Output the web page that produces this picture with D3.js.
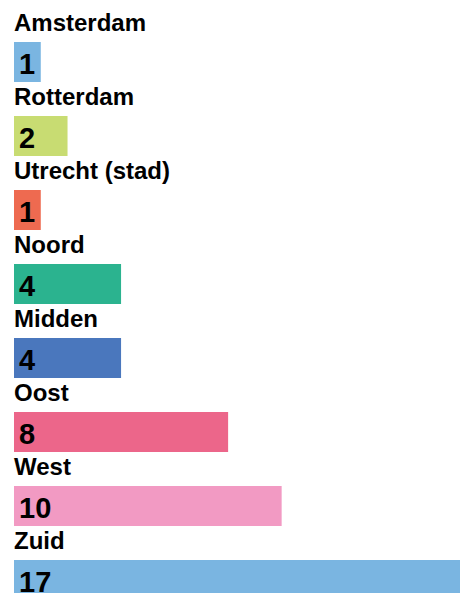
<!DOCTYPE html>
<html>
<head>
<meta charset="utf-8">
<script src="https://cdn.jsdelivr.net/npm/d3@7"></script>
<style>
  html, body { margin: 0; padding: 0; background: #fff; overflow: hidden; }
  svg { display: block; }
</style>
</head>
<body>
<svg id="chart" width="460" height="593"></svg>
<script>
const categories = ["Amsterdam", "Rotterdam", "Utrecht (stad)", "Noord", "Midden", "Oost", "West", "Zuid"];
const values = [1, 2, 1, 4, 4, 8, 10, 17];
const colors = ["#7ab5e1", "#c8dc72", "#ee6a50", "#2bb38f", "#4a77bd", "#ec668a", "#f29ac3", "#7ab5e1"];

const svg = d3.select("#chart");
const left = 14;

const x = d3.scaleLinear().domain([0, 17]).range([0, 455]);
const y = d3.scaleBand().domain(categories).range([11, 11 + 74 * categories.length]).paddingInner(0).paddingOuter(0);

const data = categories.map((c, i) => ({ c, v: values[i], col: colors[i] }));

const g = svg.selectAll("g.row").data(data).enter().append("g")
  .attr("class", "row")
  .attr("transform", d => `translate(0,${y(d.c)})`);

g.append("text")
  .attr("x", left)
  .attr("y", 20)
  .attr("font-family", "'Liberation Sans', Arial, Helvetica, sans-serif")
  .attr("font-weight", "bold")
  .attr("font-size", 24)
  .attr("fill", "#000")
  .text(d => d.c);

g.append("rect")
  .attr("x", left)
  .attr("y", 31)
  .attr("width", d => x(d.v))
  .attr("height", 40)
  .attr("fill", d => d.col);

g.append("text")
  .attr("x", left + 5)
  .attr("y", 31 + 32)
  .attr("font-family", "'Liberation Sans', Arial, Helvetica, sans-serif")
  .attr("font-weight", "bold")
  .attr("font-size", 29)
  .attr("fill", "#000")
  .text(d => d.v);
</script>
</body>
</html>
